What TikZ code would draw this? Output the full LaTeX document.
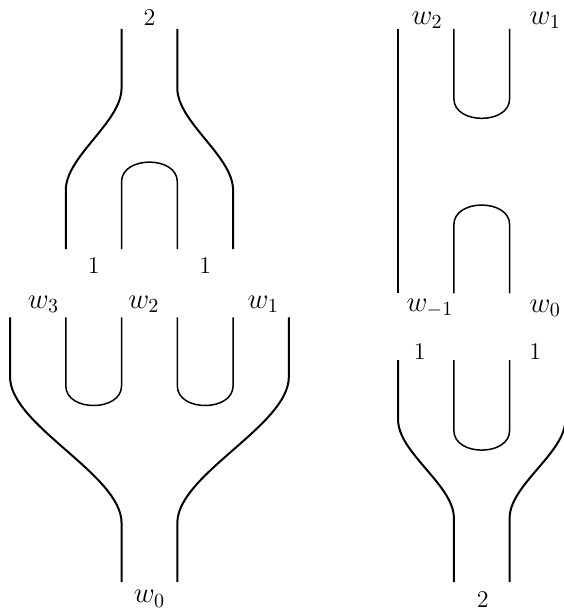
\documentclass[tikz,border=0pt]{standalone}
\begin{document}
\begin{tikzpicture}[scale=.98,strand/.style={line width=1pt},cup/.style={line width=.75pt},
  region/.style={font=\Large},edge/.style={font=\large}]
\useasboundingbox (-0.18,-0.5) rectangle (9.92,10.44);
% left, upper part
\draw[strand] (2,9.92) -- (2,8.86) .. controls (2,8.25) and (1,7.64) .. (1,7.03) -- (1,5.97);
\draw[strand] (3,9.92) -- (3,8.86) .. controls (3,8.25) and (4,7.64) .. (4,7.03) -- (4,5.97);
\draw[cup] (2,5.97) -- (2,7.18) .. controls (2,7.65) and (3,7.65) .. (3,7.18) -- (3,5.97);
\node[edge] (ltop) at (2.5,10.12) {$2$};
\node[edge] (lone) at (1.5,5.67) {$1$};
\node[edge] (rone) at (3.5,5.67) {$1$};
% left, lower part
\draw[strand] (0,4.75) -- (0,3.68) .. controls (0,2.81) and (2,1.93) .. (2,1.06) -- (2,0);
\draw[strand] (5,4.75) -- (5,3.68) .. controls (5,2.81) and (3,1.93) .. (3,1.06) -- (3,0);
\draw[cup] (1,4.75) -- (1,3.52) .. controls (1,3.05) and (2,3.05) .. (2,3.52) -- (2,4.75);
\draw[cup] (3,4.75) -- (3,3.52) .. controls (3,3.05) and (4,3.05) .. (4,3.52) -- (4,4.75);
\node[region] (wthree) at (0.6,4.98) {$w_3$};
\node[region] (wtwo) at (2.4,4.98) {$w_2$};
\node[region] (wone) at (4.54,4.98) {$w_1$};
\node[region] (wzero) at (2.5,-0.3) {$w_0$};
% right, upper part
\draw[strand] (6.96,9.92) -- (6.96,5.18);
\draw[cup] (7.96,9.92) -- (7.96,8.67) .. controls (7.96,8.2) and (8.96,8.2) .. (8.96,8.67) -- (8.96,9.92);
\draw[cup] (7.96,5.18) -- (7.96,6.41) .. controls (7.96,6.88) and (8.96,6.88) .. (8.96,6.41) -- (8.96,5.18);
\node[region] (rwtwo) at (7.48,10.08) {$w_2$};
\node[region] (rwone) at (9.6,10.08) {$w_1$};
\node[region] (rwmone) at (7.53,4.91) {$w_{-1}$};
\node[region] (rwzero) at (9.6,4.91) {$w_0$};
% right, lower part
\draw[strand] (6.96,3.98) -- (6.96,2.91) .. controls (6.96,2.32) and (7.96,1.74) .. (7.96,1.15) -- (7.96,0);
\draw[strand] (9.96,3.98) -- (9.96,2.91) .. controls (9.96,2.32) and (8.96,1.74) .. (8.96,1.15) -- (8.96,0);
\draw[cup] (7.96,3.98) -- (7.96,2.72) .. controls (7.96,2.25) and (8.96,2.25) .. (8.96,2.72) -- (8.96,3.98);
\node[edge] (rlone) at (7.35,4.13) {$1$};
\node[edge] (rrone) at (9.42,4.13) {$1$};
\node[edge] (rbot) at (8.48,-0.32) {$2$};
\end{tikzpicture}
\end{document}
